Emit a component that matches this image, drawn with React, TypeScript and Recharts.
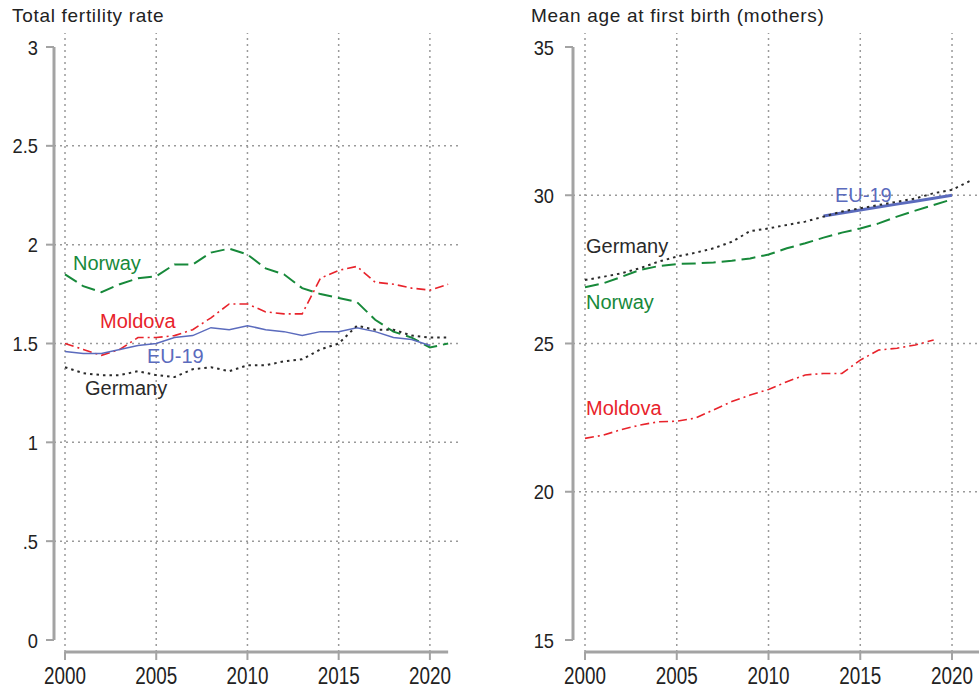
import { Line, LineChart, ReferenceLine, XAxis, YAxis } from 'recharts';

const years = [2000, 2001, 2002, 2003, 2004, 2005, 2006, 2007, 2008, 2009, 2010, 2011, 2012, 2013, 2014, 2015, 2016, 2017, 2018, 2019, 2020, 2021];
const yearTicks = [2000, 2005, 2010, 2015, 2020];

// total fertility rate
const tfrNorway = [1.85, 1.79, 1.76, 1.8, 1.83, 1.84, 1.9, 1.9, 1.96, 1.98, 1.95, 1.88, 1.85, 1.78, 1.75, 1.73, 1.71, 1.62, 1.56, 1.53, 1.48, 1.5];
const tfrMoldova = [1.5, 1.47, 1.44, 1.47, 1.53, 1.53, 1.54, 1.57, 1.63, 1.7, 1.7, 1.66, 1.65, 1.65, 1.83, 1.87, 1.89, 1.81, 1.8, 1.78, 1.77, 1.8];
const tfrEu19 = [1.46, 1.45, 1.45, 1.47, 1.49, 1.5, 1.53, 1.54, 1.58, 1.57, 1.59, 1.57, 1.56, 1.54, 1.56, 1.56, 1.58, 1.56, 1.53, 1.52, 1.49, null];
const tfrGermany = [1.38, 1.35, 1.34, 1.34, 1.36, 1.34, 1.33, 1.37, 1.38, 1.36, 1.39, 1.39, 1.41, 1.42, 1.47, 1.5, 1.59, 1.57, 1.57, 1.54, 1.53, 1.53];
const tfrTicks = [0, 0.5, 1, 1.5, 2, 2.5, 3];
const tfrGrid = [0.5, 1, 1.5, 2, 2.5];

// mean age at first birth
const mabNorway = [26.9, 27.03, 27.25, 27.48, 27.61, 27.68, 27.7, 27.73, 27.79, 27.87, 28.0, 28.21, 28.38, 28.57, 28.74, 28.88, 29.05, 29.28, 29.48, 29.67, 29.86, null];
const mabGermany = [27.14, 27.25, 27.37, 27.54, 27.76, 27.93, 28.06, 28.21, 28.43, 28.79, 28.88, 29.0, 29.11, 29.28, 29.45, 29.56, 29.67, 29.78, 29.89, 30.07, 30.18, 30.49];
const mabEu19 = [null, null, null, null, null, null, null, null, null, null, null, null, null, 29.3, 29.4, 29.5, 29.6, 29.7, 29.8, 29.9, 30.0, null];
const mabMoldova = [21.8, 21.91, 22.1, 22.25, 22.36, 22.38, 22.48, 22.76, 23.04, 23.26, 23.45, 23.71, 23.94, 23.99, 23.99, 24.44, 24.78, 24.84, 24.95, 25.12, null, null];
const mabTicks = [15, 20, 25, 30, 35];
const mabGrid = [20, 25, 30];

const tfrData = years.map((year, i) => ({
  year,
  norway: tfrNorway[i],
  moldova: tfrMoldova[i],
  eu19: tfrEu19[i],
  germany: tfrGermany[i]
}));

const mabData = years.map((year, i) => ({
  year,
  norway: mabNorway[i],
  moldova: mabMoldova[i],
  eu19: mabEu19[i],
  germany: mabGermany[i]
}));

const GREEN = '#17893a';
const RED = '#e8232b';
const BLUE = '#5b6bbd';
const BLACK = '#2a2a2a';
const AXIS = '#a3a3a3';
const GRID = '#9a9a9a';
const SANS = "'Liberation Sans', Arial, sans-serif";

const fmtTfr = (v: number) => (v === 0.5 ? '.5' : String(v));

// narrow-looking tick text: Liberation Sans squeezed horizontally
const XTick = (props: any) => {
  const { x, y, payload } = props;
  return (
    <g transform={`translate(${x},${y + 22}) scale(0.82,1)`}>
      <text x={0} y={0} textAnchor="middle" fontFamily={SANS} fontSize={23} fill="#222">
        {payload.value}
      </text>
    </g>
  );
};

const makeYTick = (fmt: (v: number) => string) => (props: any) => {
  const { x, y, payload } = props;
  return (
    <g transform={`translate(${x},${y}) scale(0.87,1)`}>
      <text x={0} y={0} dy="0.36em" textAnchor="end" fontFamily={SANS} fontSize={21} fill="#222">
        {fmt(payload.value)}
      </text>
    </g>
  );
};

const TfrTick = makeYTick(fmtTfr);
const MabTick = makeYTick((v) => String(v));

const Label = ({ x, y, color, text }: { x: number; y: number; color: string; text: string }) => (
  <div
    style={{
      position: 'absolute',
      left: x,
      top: y - 17,
      color,
      fontFamily: SANS,
      fontSize: 20,
      lineHeight: '20px',
      whiteSpace: 'nowrap'
    }}
  >
    {text}
  </div>
);

const titleStyle = {
  position: 'absolute' as const,
  top: 5,
  fontFamily: SANS,
  fontSize: 19,
  letterSpacing: 0.7,
  color: '#222',
  whiteSpace: 'nowrap' as const
};

const App = () => {
  const lx: [number, number] = [1999.397, 2021.65];
  const ly: [number, number] = [-0.0607, 3.0708];
  const rx: [number, number] = [1999.346, 2021.47];
  const ry: [number, number] = [14.595, 35.472];

  return (
    <div style={{ position: 'absolute', left: 0, top: 0, width: 979, height: 689, background: '#fff', overflow: 'hidden' }}>
      <div style={{ ...titleStyle, left: 12 }}>Total fertility rate</div>
      <div style={{ ...titleStyle, left: 531 }}>Mean age at first birth (mothers)</div>

      <div style={{ position: 'absolute', left: 0, top: 0 }}>
        <LineChart width={460} height={689} data={tfrData} margin={{ top: 33, right: 0, bottom: 0, left: 0 }}>
          <XAxis
            dataKey="year"
            type="number"
            domain={lx}
            allowDataOverflow
            ticks={yearTicks}
            axisLine={false}
            tickLine={{ stroke: AXIS, strokeWidth: 2 }}
            tickSize={8}
            height={37}
            tick={<XTick />}
          />
          <YAxis
            type="number"
            domain={ly}
            allowDataOverflow
            ticks={tfrTicks}
            axisLine={false}
            tickLine={{ stroke: AXIS, strokeWidth: 2 }}
            tickSize={8}
            tickMargin={8}
            width={54}
            tick={<TfrTick />}
          />
          {yearTicks.map((t) => (
            <ReferenceLine key={'vx' + t} x={t} stroke={GRID} strokeWidth={1.5} strokeDasharray="2 4" />
          ))}
          {tfrGrid.map((t) => (
            <ReferenceLine key={'hy' + t} y={t} stroke={GRID} strokeWidth={1.5} strokeDasharray="2 4" />
          ))}
          <ReferenceLine segment={[{ x: lx[0], y: 0 }, { x: lx[0], y: 3 }]} stroke={AXIS} strokeWidth={3} />
          <ReferenceLine segment={[{ x: 2000, y: ly[0] }, { x: 2021, y: ly[0] }]} stroke={AXIS} strokeWidth={3} />
          <Line dataKey="norway" stroke={GREEN} strokeWidth={2} strokeDasharray="14 6" dot={false} isAnimationActive={false} />
          <Line dataKey="moldova" stroke={RED} strokeWidth={1.6} strokeDasharray="9 4 2 4" dot={false} isAnimationActive={false} />
          <Line dataKey="eu19" stroke={BLUE} strokeWidth={1.5} dot={false} isAnimationActive={false} />
          <Line dataKey="germany" stroke={BLACK} strokeWidth={2} strokeDasharray="2.5 4" dot={false} isAnimationActive={false} />
        </LineChart>
      </div>

      <div style={{ position: 'absolute', left: 500, top: 0 }}>
        <LineChart width={479} height={689} data={mabData} margin={{ top: 33, right: 0, bottom: 0, left: 0 }}>
          <XAxis
            dataKey="year"
            type="number"
            domain={rx}
            allowDataOverflow
            ticks={yearTicks}
            axisLine={false}
            tickLine={{ stroke: AXIS, strokeWidth: 2 }}
            tickSize={8}
            height={37}
            tick={<XTick />}
          />
          <YAxis
            type="number"
            domain={ry}
            allowDataOverflow
            ticks={mabTicks}
            axisLine={false}
            tickLine={{ stroke: AXIS, strokeWidth: 2 }}
            tickSize={8}
            tickMargin={11}
            width={73}
            tick={<MabTick />}
          />
          {yearTicks.map((t) => (
            <ReferenceLine key={'vx' + t} x={t} stroke={GRID} strokeWidth={1.5} strokeDasharray="2 4" />
          ))}
          {mabGrid.map((t) => (
            <ReferenceLine key={'hy' + t} y={t} stroke={GRID} strokeWidth={1.5} strokeDasharray="2 4" />
          ))}
          <ReferenceLine segment={[{ x: rx[0], y: 15 }, { x: rx[0], y: 35 }]} stroke={AXIS} strokeWidth={3} />
          <ReferenceLine segment={[{ x: 2000, y: ry[0] }, { x: rx[1], y: ry[0] }]} stroke={AXIS} strokeWidth={3} />
          <Line dataKey="norway" stroke={GREEN} strokeWidth={2} strokeDasharray="14 6" dot={false} isAnimationActive={false} />
          <Line dataKey="moldova" stroke={RED} strokeWidth={1.6} strokeDasharray="9 4 2 4" dot={false} isAnimationActive={false} />
          <Line dataKey="eu19" stroke={BLUE} strokeWidth={3} dot={false} isAnimationActive={false} />
          <Line dataKey="germany" stroke={BLACK} strokeWidth={2} strokeDasharray="2.5 4" dot={false} isAnimationActive={false} />
        </LineChart>
      </div>

      <Label x={73} y={270} color={GREEN} text="Norway" />
      <Label x={100} y={328} color={RED} text="Moldova" />
      <Label x={147} y={363} color={BLUE} text="EU-19" />
      <Label x={85} y={395} color={BLACK} text="Germany" />

      <Label x={586} y={253} color={BLACK} text="Germany" />
      <Label x={586} y={309} color={GREEN} text="Norway" />
      <Label x={586} y={415} color={RED} text="Moldova" />
      <Label x={835} y={202} color={BLUE} text="EU-19" />
    </div>
  );
};

export default App;
